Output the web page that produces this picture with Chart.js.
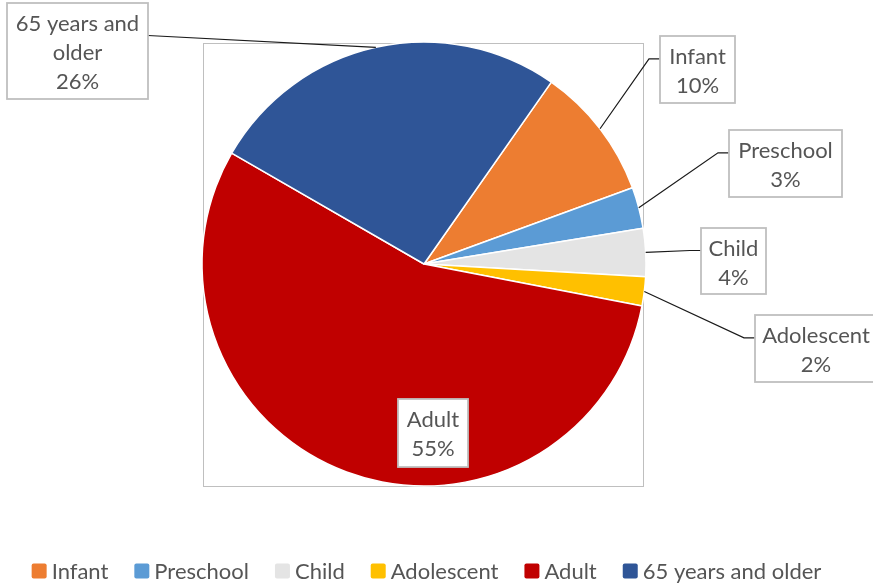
<!DOCTYPE html>
<html>
<head>
<meta charset="utf-8">
<script src="https://cdn.jsdelivr.net/npm/chart.js@4.4.0/dist/chart.umd.min.js"></script>
<style>
  html, body { margin: 0; padding: 0; background: #ffffff; }
  #wrap { width: 873px; height: 586px; position: relative; }
</style>
</head>
<body>
<div id="wrap"><canvas id="c" width="873" height="586"></canvas></div>
<script>
// ---- data ----
const categories = ['Infant', 'Preschool', 'Child', 'Adolescent', 'Adult', '65 years and older'];
const shares = [9.7, 3.0, 3.5, 2.1, 55.3, 26.4];

// ---- styles ----
const sliceColors = ['#ED7D31', '#5B9BD5', '#E4E4E4', '#FFC000', '#C00000', '#2F5597'];
const FONT = 'Lato, "Open Sans", sans-serif';
const TEXT_COLOR = '#555555';

// callout box layout (left, top, width, height); inside = no leader line
const calloutLayout = [
  { x: 660, y: 36,  w: 75,  h: 67, elbow: 11, side: 'right' },
  { x: 729, y: 130, w: 113, h: 67, elbow: 11, side: 'right' },
  { x: 701, y: 228, w: 65,  h: 66, elbow: 11, side: 'right' },
  { x: 755, y: 315, w: 122, h: 67, elbow: 11, side: 'right' },
  { x: 398, y: 399, w: 70,  h: 68, inside: true },
  { x: 7,   y: 3,   w: 141, h: 96, elbow: 0, side: 'left' }
];

function wrapText(ctx, text, maxW) {
  const words = text.split(' ');
  const lines = [];
  let cur = '';
  for (const w of words) {
    const t = cur ? cur + ' ' + w : w;
    if (ctx.measureText(t).width > maxW && cur) { lines.push(cur); cur = w; }
    else cur = t;
  }
  if (cur) lines.push(cur);
  return lines;
}

const plotFrame = {
  id: 'plotFrame',
  beforeDatasetsDraw(chart) {
    const arc = chart.getDatasetMeta(0).data[0];
    if (!arc) return;
    const ctx = chart.ctx;
    const cx = arc.x, cy = arc.y;
    ctx.save();
    ctx.strokeStyle = '#BFBFBF';
    ctx.lineWidth = 1;
    ctx.strokeRect(Math.round(cx - 221) + 0.5, Math.round(cy - 221) + 0.5, 440, 443);
    ctx.restore();
  }
};

const callouts = {
  id: 'callouts',
  afterDatasetsDraw(chart) {
    const ctx = chart.ctx;
    const meta = chart.getDatasetMeta(0);
    const vals = chart.data.datasets[0].data;
    const total = vals.reduce((a, b) => a + b, 0);
    ctx.save();
    ctx.font = '22px ' + FONT;
    meta.data.forEach((arc, i) => {
      const L = calloutLayout[i];
      const mid = (arc.startAngle + arc.endAngle) / 2;
      const px = arc.x + Math.cos(mid) * arc.outerRadius;
      const py = arc.y + Math.sin(mid) * arc.outerRadius;
      if (!L.inside) {
        const ay = L.y + L.h / 3 + 0.5;
        const ax = L.side === 'right' ? L.x : L.x + L.w;
        const ex = L.side === 'right' ? ax - L.elbow : ax + L.elbow;
        ctx.beginPath();
        ctx.moveTo(ax, ay);
        ctx.lineTo(ex, ay);
        ctx.lineTo(px, py);
        ctx.strokeStyle = '#1a1a1a';
        ctx.lineWidth = 1.2;
        ctx.stroke();
      }
      // box
      ctx.fillStyle = '#ffffff';
      ctx.fillRect(L.x, L.y, L.w, L.h);
      ctx.strokeStyle = '#BFBFBF';
      ctx.lineWidth = 1.8;
      ctx.strokeRect(L.x, L.y, L.w, L.h);
      // text
      const pct = Math.round(vals[i] / total * 100) + '%';
      const lines = wrapText(ctx, chart.data.labels[i], L.w - 10).concat([pct]);
      ctx.fillStyle = TEXT_COLOR;
      ctx.textAlign = 'center';
      ctx.textBaseline = 'middle';
      lines.forEach((ln, k) => {
        ctx.fillText(ln, L.x + L.w / 2, L.y + 21 + k * 29);
      });
    });
    ctx.restore();
  }
};

const customLegend = {
  id: 'customLegend',
  afterDraw(chart) {
    const ctx = chart.ctx;
    const colors = chart.data.datasets[0].backgroundColor;
    const labels = chart.data.labels;
    ctx.save();
    ctx.font = '22px ' + FONT;
    const box = 15, gapBox = 5, gapItem = 26;
    const widths = labels.map(l => ctx.measureText(l).width);
    let total = 0;
    widths.forEach((w, i) => { total += box + gapBox + w + (i < widths.length - 1 ? gapItem : 0); });
    let x = 426.5 - total / 2;
    const cy = 571;
    labels.forEach((l, i) => {
      ctx.fillStyle = colors[i];
      ctx.beginPath();
      if (ctx.roundRect) ctx.roundRect(x, cy - 7.5, box, box, 2); else ctx.rect(x, cy - 7.5, box, box);
      ctx.fill();
      ctx.fillStyle = TEXT_COLOR;
      ctx.textAlign = 'left';
      ctx.textBaseline = 'middle';
      ctx.fillText(l, x + box + gapBox, cy + 1);
      x += box + gapBox + widths[i] + gapItem;
    });
    ctx.restore();
  }
};

new Chart(document.getElementById('c'), {
  type: 'pie',
  data: {
    labels: categories,
    datasets: [{
      data: shares,
      backgroundColor: sliceColors,
      borderColor: '#ffffff',
      borderWidth: 1.5
    }]
  },
  options: {
    responsive: false,
    animation: false,
    devicePixelRatio: 1,
    rotation: 35,
    radius: 222,
    layout: { padding: { left: 0, right: 25, top: 42, bottom: 100 } },
    plugins: {
      legend: { display: false },
      tooltip: { enabled: false }
    }
  },
  plugins: [plotFrame, callouts, customLegend]
});
</script>
</body>
</html>
